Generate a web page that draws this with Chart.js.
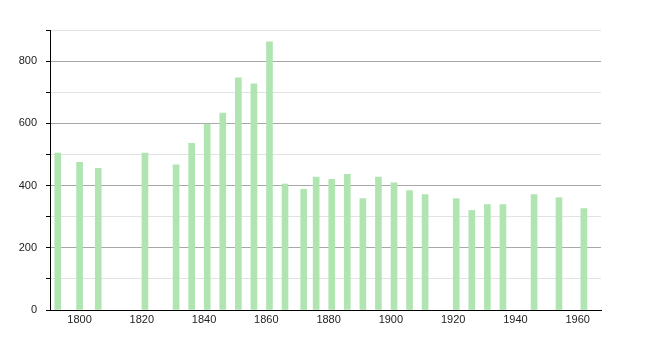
<!DOCTYPE html>
<html>
<head>
<meta charset="utf-8">
<script src="https://cdn.jsdelivr.net/npm/chart.js@4/dist/chart.umd.min.js"></script>
<style>
html,body{margin:0;padding:0;background:#fff;}
#wrap{width:650px;height:340px;position:relative;}
</style>
</head>
<body>
<div id="wrap"><canvas id="c" width="650" height="340"></canvas></div>
<script>
const years = [1793,1800,1806,1821,1831,1836,1841,1846,1851,1856,1861,1866,1872,1876,1881,1886,1891,1896,1901,1906,1911,1921,1926,1931,1936,1946,1954,1962];
const population = [504,475,455,504,467,536,598,633,746,727,862,405,388,427,420,436,358,427,409,384,371,358,320,339,339,371,361,326];
const xTickLabels = [1800,1820,1840,1860,1880,1900,1920,1940,1960];
const yTickValues = [0,100,200,300,400,500,600,700,800,900];
const yLabelled = [0,200,400,600,800];

const points = years.map((y,i)=>({x:y, y:population[i]}));

new Chart(document.getElementById('c'), {
  type: 'bar',
  data: {
    datasets: [{
      data: points,
      backgroundColor: '#b0e5b2',
      borderWidth: 0,
      barThickness: 6
    }]
  },
  options: {
    responsive: false,
    animation: false,
    layout: {padding: {top: 30, right: 49, left: 0, bottom: 0}},
    plugins: {legend: {display: false}, tooltip: {enabled: false}},
    scales: {
      x: {
        type: 'linear',
        min: 1790.5,
        max: 1967.5,
        offset: false,
        afterBuildTicks: (s) => { s.ticks = xTickLabels.map(v => ({value: v})); },
        afterFit: (s) => { s.height = 30; },
        grid: {display: false, drawTicks: false, tickLength: 0},
        border: {display: true, color: '#000', width: 1},
        ticks: {
          color: '#222',
          font: {family: '"Liberation Sans", Arial, sans-serif', size: 11},
          padding: 3,
          maxRotation: 0,
          callback: (v) => String(v)
        }
      },
      y: {
        min: 0,
        max: 900,
        afterBuildTicks: (s) => { s.ticks = yTickValues.map(v => ({value: v})); },
        afterFit: (s) => { s.width = 50; },
        grid: {
          color: (ctx) => (ctx.tick && yLabelled.includes(ctx.tick.value)) ? '#a8a8a8' : '#e2e2e2',
          tickColor: '#000',
          tickLength: 4,
          lineWidth: 1
        },
        border: {display: true, color: '#000', width: 1},
        ticks: {
          color: '#222',
          font: {family: '"Liberation Sans", Arial, sans-serif', size: 11},
          padding: 9,
          callback: (v) => yLabelled.includes(v) ? String(v) : ''
        }
      }
    }
  }
});
</script>
</body>
</html>
